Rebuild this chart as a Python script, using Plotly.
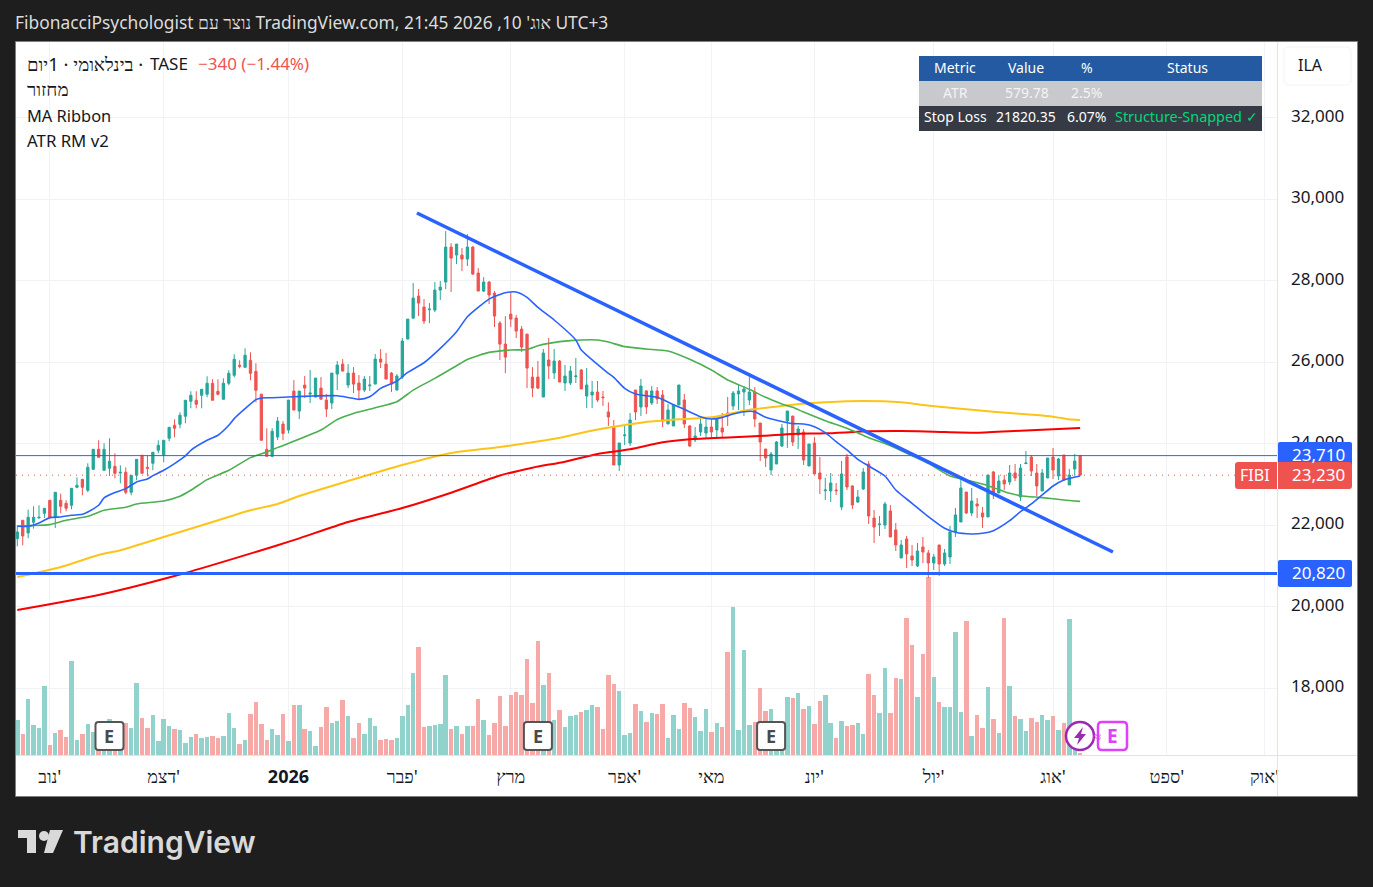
import plotly.graph_objects as go

# ---- candles (daily, ILA) ----
open_ = [21673,22123,21812,22074,22180,22295,22614,22205,22614,22540,22491,22933,23129,22859,23374,23865,23350,23399,23448,23284,
23301,22810,23227,23718,23423,23522,23841,23718,24135,24454,24479,24675,25043,25068,25190,25215,25485,25288,25092,25485,
25681,25927,25877,26049,25779,25215,23865,23693,24165,24484,24337,25294,24803,25441,25220,25146,25367,25073,25000,25711,
25956,25441,25735,25490,25318,25424,25465,26079,25956,25735,25318,25637,26570,27085,27625,27355,27290,27281,27772,27969,
28827,28631,28631,28533,28827,28189,27748,27969,27699,26962,26447,27183,27085,26815,26692,25637,25637,25148,26056,25737,
26032,25492,25492,25647,25811,25173,25198,25271,25148,24780,24412,23480,24200,24020,25320,24903,25296,25001,25296,25198,
24486,24437,24952,25075,24437,24093,24290,24265,24412,24339,24388,24756,24928,25222,25271,25075,25271,24510,23872,23357,
23504,23946,24559,24682,24216,24290,23455,24020,23284,22850,22842,22866,22449,23676,22965,22572,22891,23504,22179,22016,
22007,22351,21885,21198,21664,21247,21001,21468,21320,21075,21517,21050,21222,21836,22081,22817,22302,22523,22302,22204,
23308,22793,23112,23063,23284,22695,23513,23676,23284,22842,23161,23676,23210,23725,22989,23382,23710]
high = [22000,22123,22385,22466,22491,22425,22614,22810,22777,22614,22908,23178,23129,23522,23865,24086,24012,24135,23767,23473,
23423,23227,23620,23718,23718,23792,24086,24086,24405,24601,24773,25068,25288,25288,25338,25657,25583,25583,25607,25804,
26196,26049,26344,26246,25976,25231,24380,24380,24656,24557,25073,25564,25294,25662,25809,25613,25637,25220,25735,26030,
26079,25956,25883,25686,25662,25662,26202,26324,26226,25760,25711,26594,27060,27944,27797,27551,27453,27969,27993,29220,
28926,28901,28803,29146,28852,28312,28091,27993,27748,27011,27134,27723,27159,26889,26692,25883,26030,26326,26596,26326,
26056,25934,25909,26105,25836,25860,25541,25541,25296,25018,24584,24020,24461,24756,25320,25590,25320,25418,25394,25320,
24977,24977,25443,25222,24461,24412,24682,24633,24609,24609,24756,25148,25296,25443,25418,25639,25394,24510,23872,23799,
24069,24486,24805,24682,24437,24363,23995,24167,23676,23161,23284,23038,23578,23750,22989,22866,23406,23578,22376,22228,
22572,22498,22057,21639,21737,21517,21566,21713,21394,21296,21517,21418,21983,22425,23185,22817,22916,22670,22449,23234,
23333,23234,23234,23480,23504,23504,23823,23725,23504,23382,23652,23897,23652,23725,23382,23750,23730]
low = [21485,21509,21681,21918,22164,22180,22164,21935,22295,22344,22393,22908,22736,22810,23374,23669,23350,23211,23153,23031,
22761,22736,23104,23276,23203,23350,23767,23546,24061,24160,24380,24503,24871,24871,24871,25141,25068,25190,25092,25436,
25632,25853,25877,25558,25018,24086,23693,23669,24091,24091,24255,24827,24607,25122,25000,25146,25073,24656,24852,25318,
25784,25367,25245,25097,25269,25294,25465,25858,25588,25269,25318,25588,26570,27060,27134,26938,26962,27232,27527,27797,
27723,28410,28238,28361,28140,27748,27723,27429,26864,26054,25735,26864,26594,26251,25367,25146,25343,25148,25590,25590,
25516,25296,25443,25492,25345,24878,24878,25026,24928,24437,23480,23332,23970,23946,24584,24682,24731,24952,24977,24412,
24486,24437,24952,24388,23921,24044,24191,24142,24118,24118,24142,24437,24829,24829,24682,24952,24412,23578,23431,23234,
23504,23921,23897,23946,23873,23480,23455,23259,22768,22621,22572,22744,22376,22866,22400,22547,22866,22032,21566,21737,
21909,21713,21369,21198,20952,21001,20977,21075,20707,20903,20756,21001,21050,21713,22081,22277,22228,22179,21934,22204,
22646,22793,22866,22989,23087,22596,23504,23210,22719,22842,23161,23136,23112,23087,22989,23210,23230]
close = [21836,21738,22196,22196,22196,22417,22196,22810,22466,22417,22908,22982,22933,23423,23865,23669,23865,23571,23276,23301,
22810,23227,23620,23276,23399,23792,23963,24086,24405,24380,24700,25068,25190,24969,25338,25485,25068,25215,25485,25730,
26074,25902,26172,25730,25313,24086,23693,24307,24557,24255,25073,24827,25294,25367,25245,25613,25097,24852,25735,25932,
25784,25735,25465,25318,25588,25441,26079,26005,25588,25465,25662,26521,27060,27576,27453,27011,27306,27772,27846,28827,
28557,28901,28533,28827,28165,27748,27969,27650,27134,26447,26128,27060,26766,26373,25858,25367,25367,26228,25909,26032,
25516,25664,25786,25664,25345,25443,25271,25075,25132,24658,23480,24020,24216,24584,24780,25418,24903,25296,25099,24559,
24829,24952,25443,24486,23946,24191,24486,24412,24290,24609,24290,24682,25247,25296,25345,25271,24609,24044,23651,23750,
24044,24388,24805,24044,24363,23603,23995,23259,23136,22866,23038,22850,23259,22940,22498,22695,23308,22228,21958,22032,
22523,21713,21517,21517,21296,21149,21369,21345,21075,21222,21050,21320,21836,22253,22916,22302,22596,22474,22204,23234,
22768,23087,23014,23284,23161,23406,23529,23333,22965,23284,23652,23357,23627,23112,23234,23578,23230]
volume = [350,210,560,300,270,690,100,220,250,180,940,150,210,310,230,150,150,360,217,183,
320,270,720,370,270,400,140,360,290,260,250,120,180,210,170,180,190,170,190,420,
270,110,150,410,530,310,150,260,200,410,140,500,500,260,240,90,280,480,320,340,
550,390,170,320,210,370,290,150,160,150,170,390,500,820,1080,280,290,300,310,800,
260,290,210,290,290,560,350,200,320,590,290,600,630,600,960,520,1140,700,820,350,
450,280,390,400,430,450,500,480,260,800,710,640,200,220,510,440,330,420,410,510,
170,400,260,520,470,380,240,460,230,320,280,1030,1480,250,1050,300,330,670,440,460,
150,120,580,570,620,460,490,310,540,600,320,170,340,290,300,320,210,810,600,420,
870,420,770,760,1370,1100,580,1010,1780,780,530,480,480,1230,430,1340,190,400,270,680,
360,220,1370,690,390,360,240,370,330,400,350,390,250,320,1360,300,20]
assert all(len(a) == 197 for a in (open_, high, low, close, volume))
bars = list(range(197))

# ---- moving averages, read at bar indexes ----
ma_blue_x = [0,2,4,6,8,10,12,13,15,16,18,20,22,24,25,27,29,31,32,35,37,39,40,42,44,45,47,51,54,59,61,63,65,67,70,72,75,78,81,83,85,87,90,92,94,96,99,103,104,107,109,110,112,114,118,121,123,126,128,130,132,134,136,138,140,143,145,147,149,151,153,155,157,160,162,165,168,171,173,176,178,180,183,185,187,189,191,193,196]
ma_blue_y = [21976,21976,22057,22188,22205,22246,22270,22327,22491,22671,22802,22900,23064,23137,23219,23350,23513,23702,23841,24086,24209,24454,24618,24863,25084,25125,25130,25155,25171,25179,25138,25089,25155,25359,25539,25752,25989,26341,26750,27118,27347,27551,27707,27723,27592,27347,27038,26547,26302,25950,25729,25631,25361,25222,25140,24960,24846,24666,24609,24649,24731,24788,24788,24649,24576,24494,24486,24421,24273,24052,23848,23619,23455,23210,22866,22539,22212,21926,21827,21787,21803,21868,22114,22335,22523,22744,22965,23112,23210]
ma_green_x = [0,2,6,9,13,16,20,22,27,30,32,35,39,43,46,48,56,59,62,66,70,73,77,81,83,87,91,94,96,98,102,107,109,112,116,120,124,128,131,135,138,141,143,145,149,153,157,161,165,168,172,175,179,183,185,189,193,196]
ma_green_y = [21976,21992,22016,22123,22221,22368,22442,22524,22597,22712,22859,23121,23350,23661,23800,23906,24337,24598,24746,24885,25032,25318,25605,25915,26071,26243,26300,26316,26406,26465,26531,26547,26498,26384,26326,26277,26073,25811,25566,25336,25140,24977,24895,24780,24568,24380,24151,23954,23709,23521,23210,23112,22973,22785,22727,22678,22621,22588]
ma_yellow_x = [0,8,15,19,27,36,43,48,52,61,71,80,89,95,101,105,110,115,122,128,134,141,143,149,156,163,167,173,180,186,191,194,196]
ma_yellow_y = [20731,20977,21271,21387,21714,22082,22368,22524,22719,23086,23479,23774,23920,24036,24175,24298,24420,24519,24600,24649,24813,24928,24960,25018,25050,25018,24952,24870,24789,24723,24666,24600,24584]
ma_red_x = [0,15,31,45,48,52,61,71,80,89,95,101,107,113,119,124,132,138,143,149,157,163,169,177,185,196]
ma_red_y = [19922,20290,20830,21387,21510,21680,22081,22424,22800,23220,23414,23561,23750,23864,24036,24110,24159,24200,24241,24257,24306,24314,24298,24273,24322,24388]

# ---- drawings ----
trend_x = [73.7, 202.05]
trend_y = [29664, 21345]
level_support = 20820
level_open = 23710
level_last = 23230

# ---- axis text ----
month_pos = [6,27,50,71,91,112,128,147,169,191,212,230]
month_txt = ["נוב'","דצמ'","<b>2026</b>","פבר'","מרץ","אפר'","מאי","יונ'","יול'","אוג'","ספט'","אוק'"]
price_ticks = [18000,20000,22000,24000,26000,28000,30000,32000]
earnings_bars = [17, 96, 139]

GREEN, RED, BLUE = "#26a69a", "#ef5350", "#2962ff"
VGREEN, VRED = "#92d2cc", "#f7a9a7"
FONT = "Noto Sans"
L, R, T, B = 16, 1277, 42, 755

def fx(x): return (x - L) / (R - L)
def fy(y): return (B - y) / (B - T)
def rect(x0, y0, x1, y1, fill, line=None, lw=1, layer="above"):
    return dict(type="rect", xref="paper", yref="paper", x0=fx(x0), x1=fx(x1), y0=fy(y0), y1=fy(y1),
                fillcolor=fill, line=dict(color=line or fill, width=lw if line else 0), layer=layer)
def rrect(x0, y0, x1, y1, r, fill, line, lw):
    p = (f"M{fx(x0+r)},{fy(y0)} L{fx(x1-r)},{fy(y0)} Q{fx(x1)},{fy(y0)} {fx(x1)},{fy(y0+r)} "
         f"L{fx(x1)},{fy(y1-r)} Q{fx(x1)},{fy(y1)} {fx(x1-r)},{fy(y1)} L{fx(x0+r)},{fy(y1)} "
         f"Q{fx(x0)},{fy(y1)} {fx(x0)},{fy(y1-r)} L{fx(x0)},{fy(y0+r)} Q{fx(x0)},{fy(y0)} {fx(x0+r)},{fy(y0)} Z")
    return dict(type="path", xref="paper", yref="paper", path=p, fillcolor=fill,
                line=dict(color=line, width=lw), layer="above")
def poly(pts, fill):
    p = "M" + " L".join(f"{fx(x)},{fy(y)}" for x, y in pts) + " Z"
    return dict(type="path", xref="paper", yref="paper", path=p, fillcolor=fill, line=dict(width=0), layer="above")
def txt(x, y, s, size=17, color="#131722", anchor="left", weight=None, family=FONT):
    f = dict(size=size, color=color, family=family)
    if weight: f["weight"] = weight
    return dict(xref="paper", yref="paper", x=fx(x), y=fy(y), text=s, showarrow=False, xanchor=anchor,
                yanchor="middle", font=f, borderpad=0, borderwidth=0)

fig = go.Figure()
fig.add_trace(go.Bar(x=bars, y=volume, yaxis="y", marker=dict(color=[VGREEN if c >= o else VRED for o, c in zip(open_, close)], line=dict(width=0)), width=0.82, hoverinfo="skip"))
fig.add_trace(go.Candlestick(x=bars, open=open_, high=high, low=low, close=close, yaxis="y2", whiskerwidth=0,
    increasing=dict(line=dict(color=GREEN, width=1), fillcolor=GREEN),
    decreasing=dict(line=dict(color=RED, width=1), fillcolor=RED), hoverinfo="skip"))
fig.add_trace(go.Scatter(x=ma_red_x, y=ma_red_y, yaxis="y2", mode="lines", line=dict(color="#f80000", width=2, shape="spline", smoothing=0.6), hoverinfo="skip"))
fig.add_trace(go.Scatter(x=ma_yellow_x, y=ma_yellow_y, yaxis="y2", mode="lines", line=dict(color="#fcc419", width=2, shape="spline", smoothing=0.6), hoverinfo="skip"))
fig.add_trace(go.Scatter(x=ma_green_x, y=ma_green_y, yaxis="y2", mode="lines", line=dict(color="#4caf50", width=1.6, shape="spline", smoothing=0.6), hoverinfo="skip"))
fig.add_trace(go.Scatter(x=ma_blue_x, y=ma_blue_y, yaxis="y2", mode="lines", line=dict(color=BLUE, width=1.6, shape="spline", smoothing=0.6), hoverinfo="skip"))
fig.add_trace(go.Scatter(x=trend_x, y=trend_y, yaxis="y2", mode="lines", line=dict(color=BLUE, width=3.5), hoverinfo="skip"))

shapes = [
    rect(15.5, 41.5, 1357.5, 796.5, "#ffffff", "#7f7f7f", 1, layer="below"),
    dict(type="line", xref="paper", yref="y2", x0=0, x1=1, y0=level_support, y1=level_support, line=dict(color=BLUE, width=3), layer="above"),
    dict(type="line", xref="paper", yref="y2", x0=0, x1=1, y0=level_open, y1=level_open, line=dict(color=BLUE, width=1), layer="above"),
    dict(type="line", xref="paper", yref="y2", x0=0, x1=fx(1235), y0=level_last, y1=level_last, line=dict(color=RED, width=1, dash="1px 5px"), layer="above"),
    dict(type="line", xref="paper", yref="paper", x0=fx(1277.5), x1=fx(1277.5), y0=fy(42), y1=fy(796), line=dict(color="#e0e3eb", width=1), layer="above"),
    dict(type="line", xref="paper", yref="paper", x0=fx(16), x1=fx(1357), y0=fy(755.5), y1=fy(755.5), line=dict(color="#e0e3eb", width=1), layer="above"),
    # info table
    rect(919, 56, 1262, 81, "#245aa1"),
    rect(919, 81, 1262, 106, "#c8c9cd"),
    rect(919, 106, 1262, 131, "#363a45"),
    # currency button
    rrect(1284, 47, 1351, 85, 5, "#ffffff", "#f0f3fa", 1),
    # price labels
    rrect(1278, 442, 1352, 466, 2, BLUE, BLUE, 0),
    rrect(1235, 462, 1352, 489, 3, RED, RED, 0),
    rect(1277, 462, 1278, 489, "#ffffff"),
    rrect(1278, 560, 1352, 587, 2, BLUE, BLUE, 0),
    # purple events
    rrect(1098, 722, 1127, 750, 4, "#ffffff", "#e040fb", 2.5),
    dict(type="circle", xref="paper", yref="paper", x0=fx(1066), x1=fx(1094), y0=fy(722), y1=fy(750), fillcolor="#ffffff", line=dict(color="#9c27b0", width=2.5), layer="above"),
    poly([(1083,727),(1074,738),(1079,738),(1077,745),(1086,734),(1081,734)], "#9c27b0"),
    # logo
    poly([(18,830),(36,830),(36,853),(27,853),(27,838),(18,838)], "#d9d9d9"),
    dict(type="circle", xref="paper", yref="paper", x0=fx(39), x1=fx(49), y0=fy(831), y1=fy(841), fillcolor="#d9d9d9", line=dict(width=0), layer="above"),
    poly([(50,830),(63,830),(53,853),(44,853)], "#d9d9d9"),
]
ann = [
    txt(15, 22, "FibonacciPsychologist נוצר עם TradingView.com, אוג' 10, 2026 21:45 UTC+3", 17.4, "#dcdcdc"),
    txt(27, 63, "בינלאומי · 1יום ·", 18.5),
    txt(150, 63, "TASE", 17),
    txt(198, 63, "−340 (−1.44%)", 17, RED),
    txt(27, 89, "מחזור", 18.8),
    txt(27, 115, "MA Ribbon", 16.4),
    txt(27, 141, "ATR RM v2", 16.8),
    txt(955, 67, "Metric", 14, "#ffffff", "center"),
    txt(1026, 67, "Value", 14, "#ffffff", "center"),
    txt(1087, 67, "%", 14, "#ffffff", "center"),
    txt(1187, 67, "Status", 14, "#ffffff", "center"),
    txt(955, 92, "ATR", 14, "#f4f4f4", "center"),
    txt(1027, 92, "579.78", 14, "#f4f4f4", "center"),
    txt(1086, 92, "2.5%", 14, "#f4f4f4", "center"),
    txt(955, 117, "Stop Loss", 14, "#ffffff", "center"),
    txt(1026, 117, "21820.35", 14, "#ffffff", "center"),
    txt(1086, 117, "6.07%", 14, "#ffffff", "center"),
    txt(1186, 117, "Structure-Snapped ✓", 14.4, "#00d977", "center"),
    txt(1298, 65, "ILA", 16),
    txt(1344.5, 454, "23,710", 17, "#ffffff", "right"),
    txt(1344.5, 474, "23,230", 17, "#ffffff", "right"),
    txt(1255, 475, "FIBI", 16, "#ffffff", "center"),
    txt(1344.5, 572, "20,820", 17, "#ffffff", "right"),
    txt(1112.5, 736, "E", 19, "#e040fb", "center", 700),
    txt(1096.5, 736, "≈", 15, "#e040fb", "center"),
    txt(73, 841.5, "TradingView", 30, "#d9d9d9", "left", 600, "Inter"),
]
for b in earnings_bars:
    cx = 17.3 + 5.423 * b
    shapes.append(rrect(cx - 14, 722, cx + 14, 750, 3, "#ffffff", "#555555", 2))
    ann.append(txt(cx, 736, "E", 18, "#4a4a4a", "center", 700))

fig.update_layout(
    width=1373, height=887, margin=dict(l=L, r=1373 - R, t=T, b=887 - B, pad=0, autoexpand=False),
    paper_bgcolor="#1e1e1e", plot_bgcolor="#ffffff", showlegend=False, bargap=0, boxmode="overlay", boxgap=0.4,
    xaxis=dict(range=[-0.24, 232.3], tickmode="array", tickvals=month_pos, ticktext=month_txt, showgrid=True, gridcolor="#f1f2f5",
               zeroline=False, showline=False, ticks="", tickfont=dict(family=FONT, size=18, color="#131722"), rangeslider=dict(visible=False), ticklabelstandoff=9),
    yaxis=dict(range=[0, 7130], visible=False, showgrid=False, fixedrange=True),
    yaxis2=dict(range=[16363, 33860], overlaying="y", side="right", tickmode="array", tickvals=price_ticks, tickformat=",",
                showgrid=True, gridcolor="#f1f2f5", zeroline=False, showline=False, ticks="", ticklabelstandoff=13, ticklabelshift=-2,
                tickfont=dict(family=FONT, size=17, color="#131722")),
    shapes=shapes, annotations=ann, hovermode=False,
)
fig.write_html("out.html", config=dict(displayModeBar=False), post_script="document.body.style.margin='0';document.body.style.overflow='hidden';")
